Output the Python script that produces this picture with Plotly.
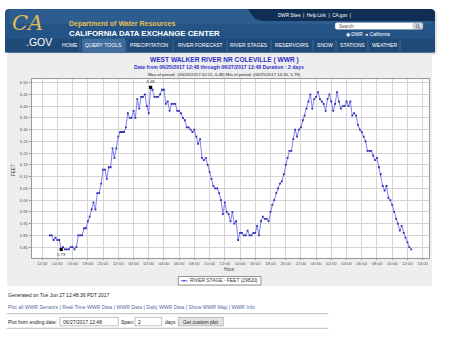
import numpy as np
import pandas as pd
import plotly.graph_objects as go

# ---- River stage readings (feet), 15-minute interval, one list per calendar day ----
stage_jun25 = [
    5.85, 5.85, 5.83, 5.84, 5.83, 5.83, 5.79, 5.80, 5.79, 5.79,
    5.79, 5.80, 5.80, 5.79, 5.80, 5.85, 5.85, 5.85, 5.88, 5.88,
    5.91, 5.93, 5.96, 5.99, 5.96, 6.03, 6.03, 6.07, 6.13, 6.13,
    6.09, 6.14, 6.14, 6.22, 6.18, 6.22, 6.27, 6.29, 6.29, 6.29,
    6.31, 6.37, 6.35, 6.35,
]
stage_jun26 = [
    6.38, 6.35, 6.43, 6.39, 6.44, 6.44, 6.45, 6.40, 6.37, 6.48,
    6.47, 6.44, 6.44, 6.44, 6.45, 6.47, 6.47, 6.41, 6.42, 6.38,
    6.41, 6.41, 6.41, 6.38, 6.38, 6.37, 6.35, 6.34, 6.31, 6.31,
    6.30, 6.29, 6.30, 6.27, 6.24, 6.26, 6.18, 6.17, 6.18, 6.15,
    6.12, 6.09, 6.06, 6.05, 6.05, 6.03, 6.00, 5.94, 5.99, 5.95,
    5.94, 5.91, 5.95, 5.90, 5.91, 5.83, 5.86, 5.86, 5.85, 5.85,
    5.87, 5.85, 5.85, 5.86, 5.86, 5.89, 5.85, 5.91, 5.93, 5.92,
    5.92, 5.91, 5.95, 5.98, 6.00, 6.03, 6.05, 6.07, 6.08, 6.11,
    6.15, 6.18, 6.21, 6.21, 6.26, 6.30, 6.27, 6.30, 6.31, 6.34,
    6.36, 6.39, 6.42, 6.45, 6.39, 6.43,
]
stage_jun27 = [
    6.44, 6.46, 6.43, 6.42, 6.41, 6.38, 6.43, 6.45, 6.42, 6.38,
    6.41, 6.46, 6.42, 6.39, 6.40, 6.40, 6.42, 6.40, 6.42, 6.36,
    6.37, 6.36, 6.32, 6.30, 6.29, 6.27, 6.25, 6.21, 6.21, 6.21,
    6.19, 6.17, 6.18, 6.14, 6.11, 6.06, 6.04, 6.06, 6.01, 6.00,
    5.98, 5.95, 5.92, 5.90, 5.87, 5.89, 5.86, 5.84, 5.82, 5.80,
    5.79,
]
first_reading = "2017-06-25 13:00"
series_name = "RIVER STAGE - FEET (29820)"
station_title = "WEST WALKER RIVER NR COLEVILLE ( WWR )"
nav_items = ["HOME", "QUERY TOOLS", "PRECIPITATION", "RIVER FORECAST", "RIVER STAGES",
             "RESERVOIRS", "SNOW", "STATIONS", "WEATHER"]

stage = np.array(stage_jun25 + stage_jun26 + stage_jun27)
times = pd.date_range(first_reading, periods=len(stage), freq="15min")

i_max = int(np.argmax(stage))
i_min = int(np.argmin(stage))
t_max, v_max = times[i_max], stage[i_max]
t_min, v_min = times[i_min], stage[i_min]

# axis ranges padded 5% on each side of the data
span_t = times[-1] - times[0]
x_range = [times[0] - span_t * 0.05, times[-1] + span_t * 0.05]
span_v = stage.max() - stage.min()
y_range = [stage.min() - span_v * 0.05, stage.max() + span_v * 0.05]

# ---- page geometry helpers (pixel -> paper) ----
W, H = 450, 340
def X(p): return p / W
def Y(p): return 1 - p / H

shapes, notes = [], []

def rect(x0, y0, x1, y1, fill, line=None, lw=0, layer="below"):
    shapes.append(dict(type="rect", xref="paper", yref="paper",
                       x0=X(x0), x1=X(x1), y0=Y(y1), y1=Y(y0),
                       fillcolor=fill, layer=layer,
                       line=dict(color=line or "rgba(0,0,0,0)", width=lw)))

def rpath(x0, y0, x1, y1, r, fill, line=None, lw=0):
    def P(x, y): return f"{X(x):.5f},{Y(y):.5f}"
    d = (f"M {P(x0+r,y0)} L {P(x1-r,y0)} Q {P(x1,y0)} {P(x1,y0+r)} "
         f"L {P(x1,y1-r)} Q {P(x1,y1)} {P(x1-r,y1)} L {P(x0+r,y1)} "
         f"Q {P(x0,y1)} {P(x0,y1-r)} L {P(x0,y0+r)} Q {P(x0,y0)} {P(x0+r,y0)} Z")
    shapes.append(dict(type="path", xref="paper", yref="paper", path=d,
                       fillcolor=fill, layer="below",
                       line=dict(color=line or "rgba(0,0,0,0)", width=lw)))

def path(points, fill):
    def P(x, y): return f"{X(x):.5f},{Y(y):.5f}"
    d = "M " + " L ".join(P(x, y) for x, y in points) + " Z"
    shapes.append(dict(type="path", xref="paper", yref="paper", path=d,
                       fillcolor=fill, layer="below", line=dict(width=0)))

def seg(x0, y0, x1, y1, color, w=1, layer="below"):
    shapes.append(dict(type="line", xref="paper", yref="paper",
                       x0=X(x0), x1=X(x1), y0=Y(y0), y1=Y(y1), layer=layer,
                       line=dict(color=color, width=w)))

def text(x, y, s, size, color="#222", anchor="left", bold=False,
         family="Liberation Sans", angle=0):
    if bold:
        s = f"<b>{s}</b>"
    notes.append(dict(x=X(x), y=Y(y), xref="paper", yref="paper", text=s,
                      showarrow=False, xanchor=anchor, yanchor="middle",
                      textangle=angle, borderpad=0,
                      font=dict(size=size, color=color, family=family)))

# ---- header banner ----
rpath(7, 11, 437, 55, 4, "rgba(0,0,0,0.10)")
rpath(5, 9, 435, 52.5, 4, "#245385")
rect(9, 9.5, 431, 24, "rgba(70,120,170,0.25)")
rect(5, 38.5, 435, 52.5, "#1f4a77")
path([(248, 9), (431, 9), (435, 12), (435, 21), (262, 21), (255, 19)], "#102e54")
rect(82, 38.5, 125, 52.5, "#3e6d9e")
for xs in [80, 126, 173, 227, 271, 313, 336, 368, 400]:
    seg(xs, 40, xs, 51, "#5b82ab", 0.6)

text(27, 23, "<i>CA</i>", 21, "#e2bb55", "center", family="DejaVu Serif")
text(25, 42.3, ".GOV", 10.5, "white", "left")
text(68, 24, "Department of Water Resources", 7, "#e6be55", bold=True)
text(68, 33.3, "CALIFORNIA DATA EXCHANGE CENTER", 7.8, "white", bold=True)
nav_x = [69.5, 103.5, 149, 200, 249, 292, 324.5, 352.5, 384.5]
for nx, item in zip(nav_x, nav_items):
    text(nx, 44.8, item, 5.1, "white", "center")
text(277, 15.2, "DWR Sites  |  Help Link  |  CA.gov  |", 4.6, "white")
rpath(335, 22.5, 423, 29.5, 2, "white", "#7a8fa8", 0.5)
rpath(413, 23, 422.5, 29, 1.5, "#d5dbe3", "#8898aa", 0.4)
shapes.append(dict(type="circle", xref="paper", yref="paper", x0=X(416), x1=X(419),
                   y0=Y(27.6), y1=Y(24.6), line=dict(color="#3d4e66", width=0.6),
                   layer="below"))
seg(418.6, 27.3, 420.2, 28.6, "#3d4e66", 0.7)
text(338, 26.2, "Search", 4.6, "#555")
text(344.5, 34.4, "◉ DWR  ● California", 4.8, "white")

# ---- chart panel ----
rect(7, 54.5, 432, 286, "#eeeeee")
rect(31.7, 79.3, 429.3, 257.5, "white")
text(224, 59.6, station_title, 6.6, "#3030c8", "center", bold=True)
text(219, 67.3,
     f"Date from {times[0] - pd.Timedelta(minutes=12):%m/%d/%Y %H:%M} through "
     f"{times[-1] + pd.Timedelta(minutes=18):%m/%d/%Y %H:%M} Duration : 2 days",
     5.1, "#3030c8", "center", bold=True)
text(224.5, 74.2,
     f"Max of period : ({t_max:%m/%d/%Y %H:%M}, {v_max:.2f}) "
     f"Min of period: ({t_min:%m/%d/%Y %H:%M}, {v_min:.2f})",
     4.3, "#222", "center")
text(13, 170, "FEET", 4.6, "#444", "center", angle=-90)
text(230, 269.2, "Hour", 4.8, "#444", "center")

# legend box
rect(178.3, 276.5, 261, 285, "white", "#666", 0.7)
seg(180.5, 280.8, 187.5, 280.8, "#7474f0", 1, layer="above")
rect(183.3, 280.0, 184.7, 281.5, "#2a2aa8", layer="above")
text(189, 280.9, series_name, 4.9, "#333")

# ---- footer ----
text(6.7, 295.2, "Generated on Tue Jun 27 12:48:36 PDT 2017", 5, "#222")
text(6.7, 307.2, "Plot all WWR Sensors | Real-Time WWR Data | WWR Data | Daily WWR Data | "
     "Show WWR Map | WWR Info", 5.1, "#55699a")
seg(6.7, 313.7, 328.3, 313.7, "#aaaaaa", 0.8)
text(6.7, 321.7, "Plot from ending date:", 5, "#222")
rect(60, 317.3, 118.3, 325.8, "white", "#999", 0.6)
text(62, 321.7, "06/27/2017 12:48", 5, "#222")
text(120, 321.7, "Span:", 5, "#222")
rect(135, 317.3, 161.7, 325.8, "white", "#999", 0.6)
text(137, 321.7, "2", 5, "#222")
text(164.3, 321.7, "days", 5, "#222")
rect(178.3, 317.3, 223.3, 325.8, "#e3e3e3", "#999", 0.6)
text(200.8, 321.7, "Get custom plot", 5, "#222", "center")
seg(6.7, 328.3, 328.3, 328.3, "#aaaaaa", 0.8)

# ---- data traces ----
fig = go.Figure()
fig.add_trace(go.Scatter(
    x=times, y=stage, mode="lines+markers", name=series_name,
    line=dict(color="#7474f0", width=0.9),
    marker=dict(symbol="square", size=1.8, color="#3030b0"),
))
fig.add_trace(go.Scatter(
    x=[t_max, t_min], y=[v_max, v_min], mode="markers+text",
    text=[f"{v_max:.2f}", f"{v_min:.2f}"],
    textposition=["top center", "bottom center"],
    textfont=dict(size=4.2, color="#333", family="Liberation Sans"),
    marker=dict(symbol="square", size=3.2, color="black"),
    showlegend=False,
))

axis_common = dict(
    showgrid=True, gridcolor="#d4d4d4", gridwidth=0.8,
    showline=True, linecolor="#9a9a9a", linewidth=0.8, mirror=True,
    ticks="outside", ticklen=2, tickcolor="#9a9a9a", zeroline=False,
    tickfont=dict(size=4.2, color="#555", family="Liberation Sans"),
)
fig.update_layout(
    width=W, height=H, margin=dict(l=0, r=0, t=0, b=0),
    paper_bgcolor="white", plot_bgcolor="rgba(0,0,0,0)",
    showlegend=False, shapes=shapes, annotations=notes,
    xaxis=dict(domain=[X(31.7), X(429.3)], type="date", range=x_range,
               tickformat="%H:%M", dtick=2 * 3600 * 1000,
               tick0="2017-06-25 12:00", **axis_common),
    yaxis=dict(domain=[Y(257.5), Y(79.3)], range=y_range,
               dtick=0.05, tick0=5.8, tickformat=".2f", **axis_common),
)

fig.write_html("out.html")
